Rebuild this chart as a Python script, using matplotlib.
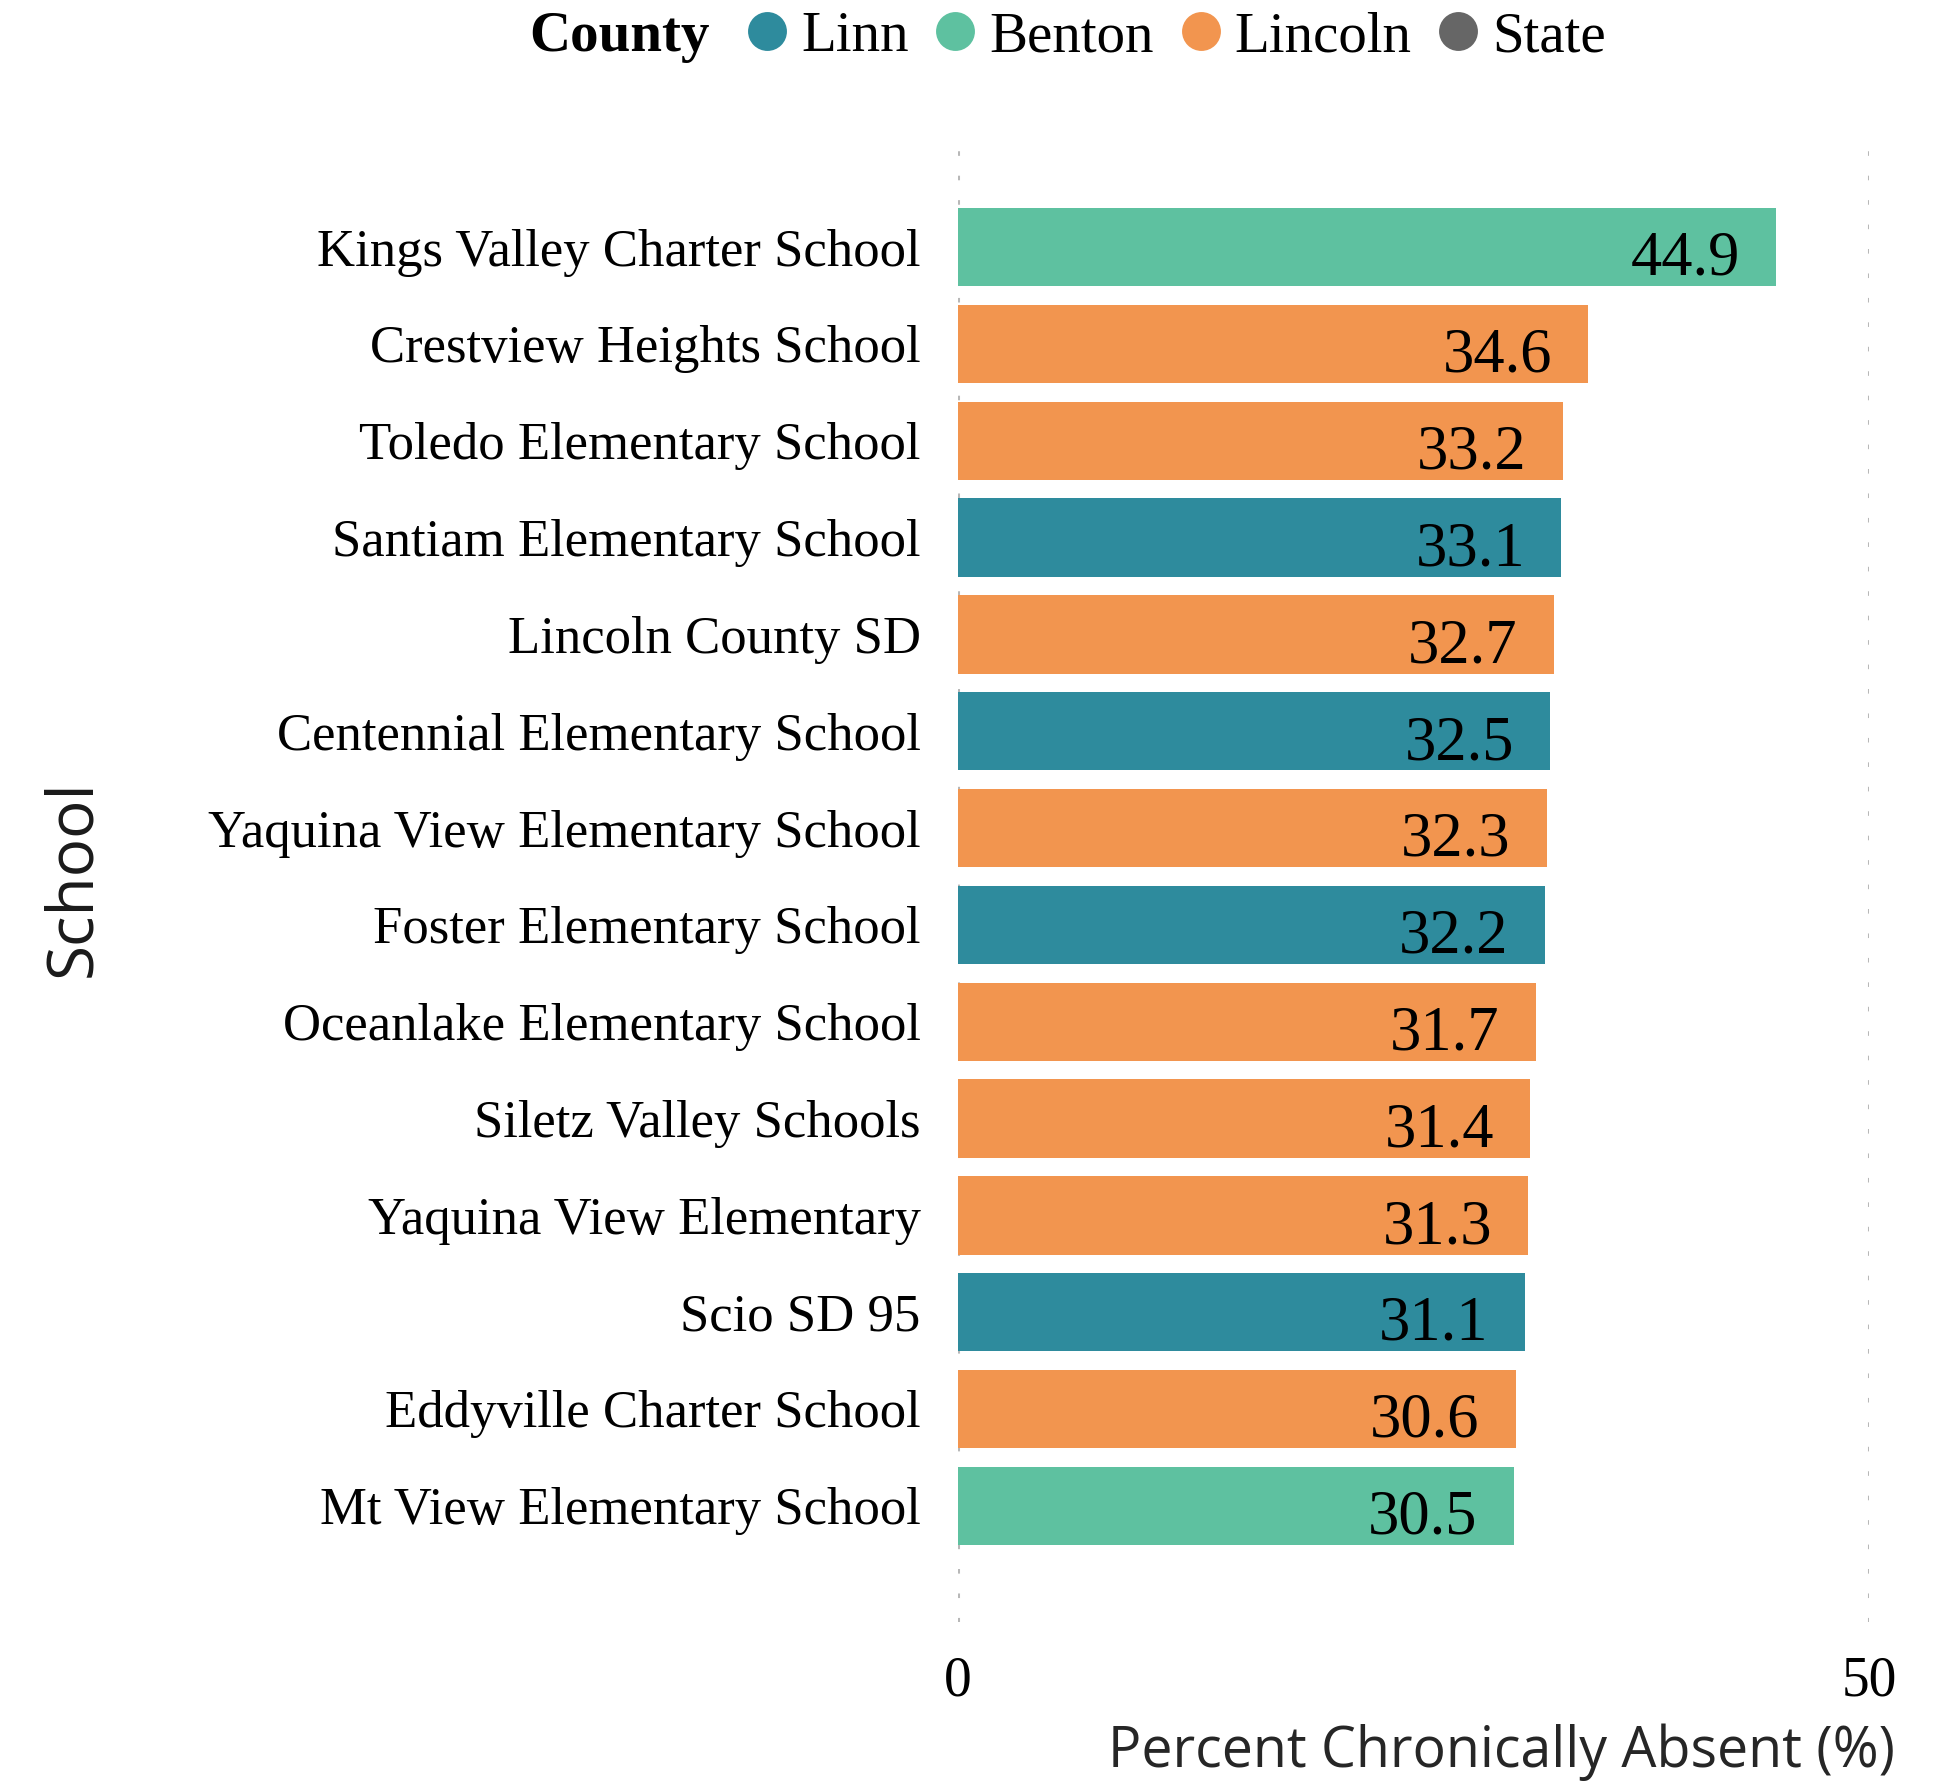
import matplotlib
matplotlib.use("Agg")
import matplotlib.pyplot as plt
from matplotlib.lines import Line2D

schools = ["Kings Valley Charter School", "Crestview Heights School", "Toledo Elementary School",
           "Santiam Elementary School", "Lincoln County SD", "Centennial Elementary School",
           "Yaquina View Elementary School", "Foster Elementary School", "Oceanlake Elementary School",
           "Siletz Valley Schools", "Yaquina View Elementary", "Scio SD 95",
           "Eddyville Charter School", "Mt View Elementary School"]
values = [44.9, 34.6, 33.2, 33.1, 32.7, 32.5, 32.3, 32.2, 31.7, 31.4, 31.3, 31.1, 30.6, 30.5]
counties = ["Benton", "Lincoln", "Lincoln", "Linn", "Lincoln", "Linn", "Lincoln", "Linn",
            "Lincoln", "Lincoln", "Lincoln", "Linn", "Lincoln", "Benton"]
legend_counties = ["Linn", "Benton", "Lincoln", "State"]
colors = {"Linn": "#2E8B9D", "Benton": "#5EC1A0", "Lincoln": "#F2954F", "State": "#666666"}
xticks = [0, 50]

W, H = 1957, 1784
fig = plt.figure(figsize=(W / 100, H / 100), dpi=100)
left, right, top, bottom = 958, 1869, 131, 1622
ax = fig.add_axes([left / W, 1 - bottom / H, (right - left) / W, (bottom - top) / H])

serif = "Liberation Serif"
sans = "Open Sans"

ypos = list(range(len(schools)))
ax.barh(ypos, values, height=0.81, color=[colors[c] for c in counties], zorder=2)
for y, v in zip(ypos, values):
    ax.annotate(f"{v:.1f}", xy=(v, y), xytext=(-26, -20), textcoords="offset points",
                ha="right", va="baseline", fontsize=45, family=serif, color="black", zorder=3)

ax.set_xlim(0, 50)
ax.set_ylim(len(schools) - 1 + 1.2, -1.2)
ax.set_yticks(ypos)
ax.set_yticklabels(schools, fontsize=38, family=serif)
ax.set_xticks(xticks)
ax.set_xticklabels([str(t) for t in xticks], fontsize=40, family=serif)
ax.tick_params(axis="y", length=0, pad=27)
ax.tick_params(axis="x", length=0, pad=24)
for s in ax.spines.values():
    s.set_visible(False)
ax.grid(axis="x", color="#b8b8b8", linewidth=2.2, linestyle=(0, (1.5, 6.5)), zorder=0)
ax.grid(axis="y", visible=False)
ax.set_axisbelow(True)

fig.text(73 / W, 1 - 878 / H, "School", rotation=90, ha="center", va="center",
         fontsize=46, family=sans, color="#1a1a1a")
fig.text(1895 / W, 1 - 1752 / H, "Percent Chronically Absent (%)", ha="right", va="center",
         fontsize=40, family=sans, color="#262626")

# legend
fig.text(529 / W, 1 - 37 / H, "County", ha="left", va="center", fontsize=41,
         family=serif, fontweight="bold")
handles = [Line2D([], [], marker="o", linestyle="none", markersize=28,
                  markerfacecolor=colors[c], markeredgewidth=0) for c in legend_counties]
leg = fig.legend(handles, legend_counties, loc="center left", bbox_to_anchor=(744 / W, 1 - 37 / H),
                 ncol=4, frameon=False, borderpad=0, borderaxespad=0, handlelength=0.8,
                 handletextpad=0.2, columnspacing=0.42, prop={"family": serif, "size": 41})

fig.savefig("out.png", dpi=100)
